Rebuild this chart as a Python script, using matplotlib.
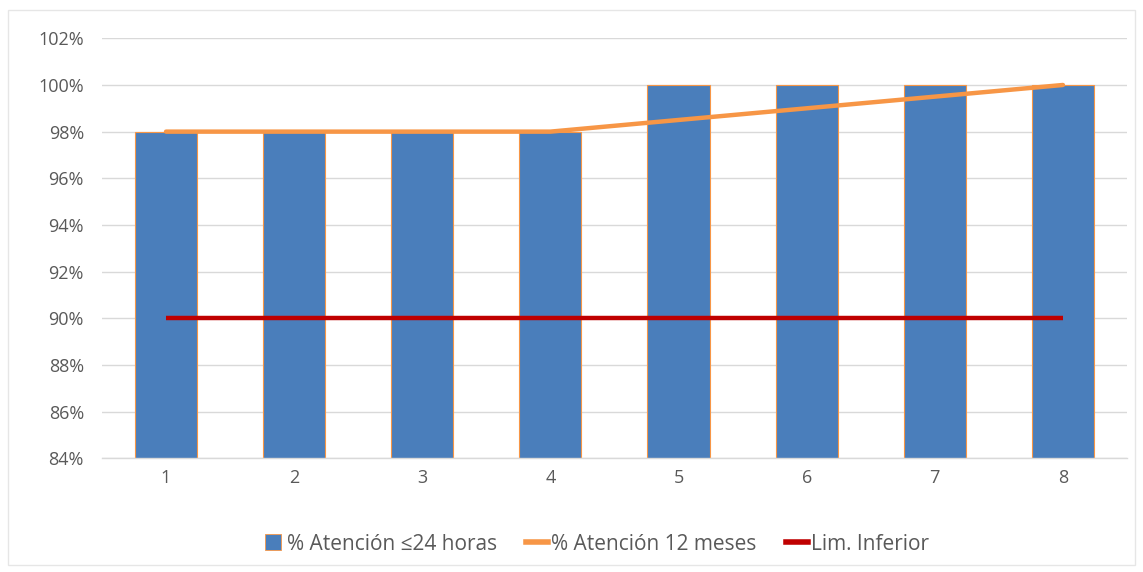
import matplotlib
matplotlib.use("Agg")
import matplotlib.pyplot as plt
from matplotlib.patches import Rectangle
from matplotlib.lines import Line2D
from matplotlib.ticker import FuncFormatter, MultipleLocator

plt.rcParams['font.family'] = ['Open Sans', 'DejaVu Sans']

periods = [1, 2, 3, 4, 5, 6, 7, 8]
atencion_24h = [98, 98, 98, 98, 100, 100, 100, 100]
atencion_12m = [98, 98, 98, 98, 98.5, 99, 99.5, 100]
lim_inferior = [90, 90, 90, 90, 90, 90, 90, 90]
series_names = ['% Atención ≤24 horas', '% Atención 12 meses', 'Lim. Inferior']

blue = '#4A7EBB'
orange = '#F79646'
red = '#C00000'
grid = '#D9D9D9'
text = '#595959'

fig = plt.figure(figsize=(11.43, 5.72), dpi=100)
fig.patches.append(Rectangle((0.007, 0.012), 0.986, 0.97, transform=fig.transFigure,
                             fill=False, edgecolor='#E6E6E6', linewidth=1))

ax = fig.add_axes([0.0892, 0.199, 0.8968, 0.734])

ax.bar(periods, atencion_24h, width=0.485, color=blue, edgecolor=orange,
       linewidth=0.8, zorder=2)
ax.plot(periods, atencion_12m, color=orange, linewidth=3.2, zorder=3,
        solid_capstyle='round')
ax.plot(periods, lim_inferior, color=red, linewidth=3.2, zorder=3,
        solid_capstyle='butt')

ax.set_xlim(0.5, 8.5)
ax.set_ylim(84, 102)
ax.yaxis.set_major_locator(MultipleLocator(2))
ax.yaxis.set_major_formatter(FuncFormatter(lambda v, p: f'{v:.0f}%'))
ax.set_xticks(periods)
ax.set_xticklabels([str(p) for p in periods])

ax.grid(axis='y', color=grid, linewidth=1, zorder=0)
ax.set_axisbelow(True)
for side in ['top', 'right', 'left']:
    ax.spines[side].set_visible(False)
ax.spines['bottom'].set_color(grid)
ax.spines['bottom'].set_linewidth(1)
ax.tick_params(axis='both', length=0, labelsize=13, colors=text, pad=8)
ax.tick_params(axis='y', pad=13)

handles = [
    Line2D([], [], linestyle='none', marker='s', markersize=11,
           markerfacecolor=blue, markeredgecolor=orange, markeredgewidth=0.6),
    Line2D([], [], color=orange, linewidth=4),
    Line2D([], [], color=red, linewidth=4),
]
ax.legend(handles, series_names, loc='center', bbox_to_anchor=(0.4815, -0.205),
          ncol=3, frameon=False, fontsize=15, labelcolor=text,
          handlelength=1.05, handletextpad=0.15, columnspacing=1.4)

fig.savefig('out.png', dpi=100, facecolor='white')
